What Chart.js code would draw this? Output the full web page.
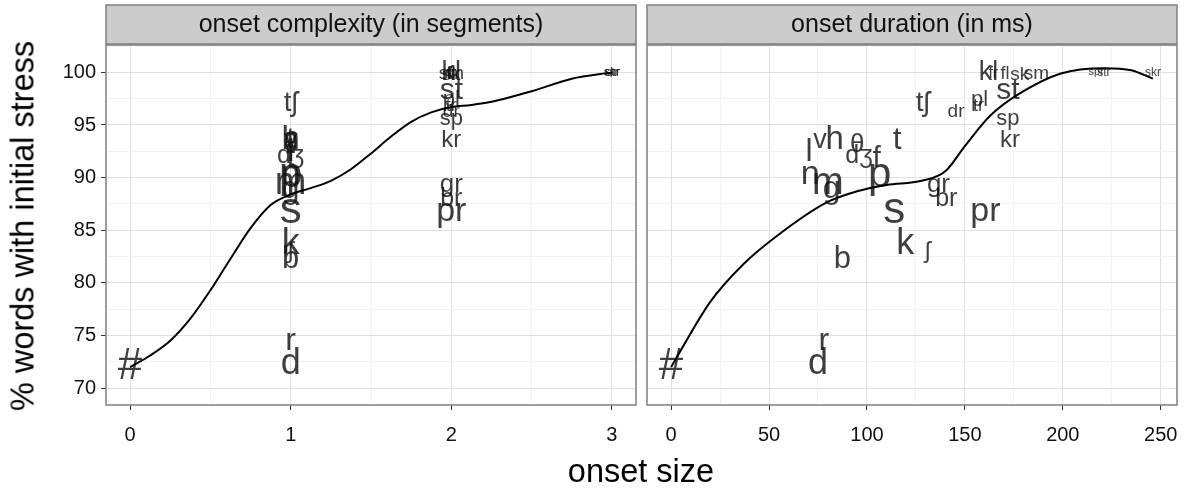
<!DOCTYPE html>
<html>
<head>
<meta charset="utf-8">
<script src="https://cdn.jsdelivr.net/npm/chart.js@4/dist/chart.umd.min.js"></script>
<style>
  html, body { margin: 0; padding: 0; background: #fff; }
  #wrap { position: relative; width: 1191px; height: 491px; overflow: hidden;
          font-family: "Liberation Sans", Arial, sans-serif; color: #000; }
  canvas { position: absolute; top: 0; }
  #c1 { left: 0; }
  #c2 { left: 641px; }
  #ytitle { position: absolute; left: 23px; top: 226px; white-space: nowrap; font-size: 32.5px;
            transform: translate(-50%, -50%) rotate(-90deg); }
  #xtitle { position: absolute; left: 641px; top: 471px; white-space: nowrap; font-size: 32.5px;
            transform: translate(-50%, -50%); }
</style>
</head>
<body>
<div id="wrap">
  <canvas id="c1" width="641" height="491"></canvas>
  <canvas id="c2" width="550" height="491"></canvas>
  <div id="ytitle">% words with initial stress</div>
  <div id="xtitle">onset size</div>
</div>
<script>
// ---- data: one entry per word onset ----
const onsets     = ['#', 'd', 'r', 'b', 'k', 'ʃ', 's', 'p', 'n', 'm', 'g', 'l', 'v', 'h', 'θ', 'dʒ', 'f', 't', 'tʃ',
                    'pr', 'br', 'gr', 'kr', 'sp', 'st', 'dr', 'pl', 'tr', 'kl', 'fr', 'fl', 'sk', 'sm',
                    'spr', 'str', 'skr'];
const segments   = [0, 1, 1, 1, 1, 1, 1, 1, 1, 1, 1, 1, 1, 1, 1, 1, 1, 1, 1,
                    2, 2, 2, 2, 2, 2, 2, 2, 2, 2, 2, 2, 2, 2,
                    3, 3, 3];
const durationMs = [0, 75, 78, 87.5, 119.5, 131, 114, 106.5, 71, 80, 82, 70.5, 76, 83.5, 95, 96, 105, 115.5, 128.5,
                    160.5, 140.5, 136.5, 173, 172, 172, 145.5, 157.5, 157, 162, 164.5, 170.5, 178, 186.5,
                    217, 221, 246];
const initialStressPct = [72.0, 72.3, 74.5, 82.2, 83.7, 83.0, 86.8, 90.2, 90.3, 89.4, 88.9, 92.4, 93.5, 93.6, 93.1, 92.0, 91.8, 93.6, 97.1,
                    86.8, 88.0, 89.3, 93.5, 95.6, 98.3, 96.3, 97.4, 96.8, 100.0, 99.9, 99.8, 99.8, 99.9,
                    100.0, 100.0, 100.0];

// smoothed trend through each panel
const complexityFitX = [0, 0.125, 0.25, 0.375, 0.5, 0.625, 0.75, 0.875, 1, 1.125, 1.25, 1.375, 1.5, 1.625, 1.75, 1.875, 2, 2.125, 2.25, 2.5, 2.75, 3];
const complexityFitY = [72.0, 73.1, 74.5, 76.6, 79.3, 82.3, 85.2, 87.4, 88.4, 89.0, 89.7, 90.8, 92.3, 93.9, 95.3, 96.2, 96.7, 96.9, 97.2, 98.2, 99.4, 100.0];
const durationFitX   = [0, 20, 37, 55, 79, 95, 110, 128, 140, 150, 163, 178, 199, 221, 235, 246];
const durationFitY   = [72.0, 78.2, 81.8, 84.6, 87.6, 88.7, 89.3, 89.7, 90.6, 93.0, 95.9, 98.0, 99.9, 100.4, 100.2, 99.4];

// tick labels
const complexityTicks = [0, 1, 2, 3];
const durationTicks   = [0, 50, 100, 150, 200, 250];
const stressTicks     = [70, 75, 80, 85, 90, 95, 100];

// ---- styles ----
const labelFontPx = [44, 36, 32, 31, 36, 24, 44, 42, 34, 38, 32, 32, 27, 33, 26, 25, 30, 32, 28,
                     34, 25, 26, 24, 22, 30, 19, 22, 18, 27, 16, 18, 19, 19,
                     11, 12, 12];
const FONT = '"Liberation Sans", Arial, sans-serif';
const GRID_MAJOR = '#e0e0e0';
const GRID_MINOR = '#f2f2f2';
const FRAME = '#7f7f7f';
Chart.defaults.font.family = FONT;

function withMinors(majors) {
  const out = [];
  majors.forEach((v, i) => {
    out.push({ value: v, major: true });
    if (i < majors.length - 1) out.push({ value: (v + majors[i + 1]) / 2, major: false });
  });
  return out;
}

// facet strip, panel frame and text marks
const facetPlugin = {
  id: 'facet',
  afterDatasetDraw(chart, args) {
    if (args.index !== 1) return;
    const meta = chart.getDatasetMeta(1);
    const ctx = chart.ctx, a = chart.chartArea;
    ctx.save();
    ctx.beginPath();
    ctx.rect(a.left, a.top, a.right - a.left, a.bottom - a.top);
    ctx.clip();
    ctx.fillStyle = 'rgba(20,20,20,0.82)';
    ctx.textAlign = 'center';
    ctx.textBaseline = 'middle';
    meta.data.forEach((pt, i) => {
      ctx.font = labelFontPx[i] + 'px ' + FONT;
      ctx.fillText(onsets[i], pt.x, pt.y);
    });
    ctx.restore();
  },
  afterDraw(chart, args, opts) {
    const ctx = chart.ctx, a = chart.chartArea;
    ctx.save();
    ctx.strokeStyle = FRAME;
    ctx.lineWidth = 1.5;
    ctx.strokeRect(a.left, a.top, a.right - a.left, a.bottom - a.top);
    // strip
    const top = 5, bottom = a.top - 1;
    ctx.fillStyle = '#cccccc';
    ctx.fillRect(a.left, top, a.right - a.left, bottom - top);
    ctx.strokeRect(a.left, top, a.right - a.left, bottom - top);
    ctx.fillStyle = '#111';
    ctx.font = '25px ' + FONT;
    ctx.textAlign = 'center';
    ctx.textBaseline = 'middle';
    ctx.fillText(opts.title, (a.left + a.right) / 2, (top + bottom) / 2 + 1);
    ctx.restore();
  }
};

function gridColor(c) { return c.tick && c.tick.major ? GRID_MAJOR : GRID_MINOR; }
function tickColor(c) { return c.tick && c.tick.major ? '#333' : 'rgba(0,0,0,0)'; }

function makePanel(canvasId, title, xs, fitX, fitY, xTicks, xMin, xMax, showY, pad) {
  const points = xs.map((x, i) => ({ x: x, y: initialStressPct[i] }));
  const fit = fitX.map((x, i) => ({ x: x, y: fitY[i] }));
  return new Chart(document.getElementById(canvasId), {
    type: 'scatter',
    data: {
      datasets: [
        { type: 'line', data: fit, borderColor: '#000', borderWidth: 2, pointRadius: 0,
          cubicInterpolationMode: 'monotone', fill: false },
        { data: points, pointRadius: 0, pointHoverRadius: 0, showLine: false }
      ]
    },
    options: {
      responsive: false,
      animation: false,
      events: [],
      layout: { padding: pad },
      plugins: { legend: { display: false }, tooltip: { enabled: false }, facet: { title: title } },
      scales: {
        x: {
          type: 'linear', min: xMin, max: xMax,
          afterBuildTicks: s => { s.ticks = withMinors(xTicks); },
          afterFit: s => { s.height = 86; },
          grid: { color: gridColor, tickColor: tickColor, tickLength: 5, lineWidth: 1, drawTicks: true },
          border: { display: false },
          ticks: { color: '#111', font: { size: 20 }, padding: 13, maxRotation: 0, autoSkip: false,
                   callback: (v, i, ticks) => ticks[i].major ? String(v) : '' }
        },
        y: {
          type: 'linear', min: 68.4, max: 102.6,
          afterBuildTicks: s => { s.ticks = withMinors(stressTicks.concat([105])).filter(t => t.value <= 102.6); },
          afterFit: s => { s.width = showY ? 106 : 0; },
          grid: { color: gridColor, tickColor: tickColor, tickLength: 5, lineWidth: 1, drawTicks: showY },
          border: { display: false },
          ticks: { display: showY, color: '#111', font: { size: 20 }, padding: 5, autoSkip: false,
                   callback: (v, i, ticks) => ticks[i].major ? String(v) : '' }
        }
      }
    },
    plugins: [facetPlugin]
  });
}

makePanel('c1', 'onset complexity (in segments)', segments, complexityFitX, complexityFitY,
          complexityTicks, -0.15, 3.15, true, { top: 45, bottom: 0, left: 0, right: 5 });
makePanel('c2', 'onset duration (in ms)', durationMs, durationFitX, durationFitY,
          durationTicks, -12.3, 258.3, false, { top: 45, bottom: 0, left: 6, right: 14 });
</script>
</body>
</html>
